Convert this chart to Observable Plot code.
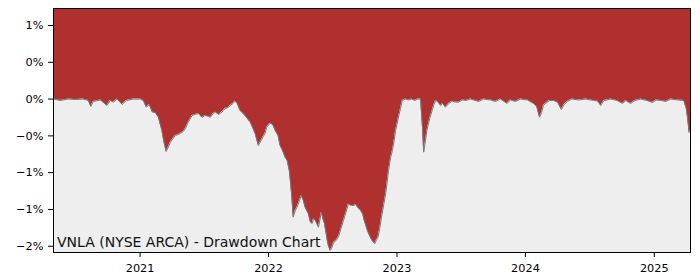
<!DOCTYPE html>
<html><head>
<meta charset="utf-8">
<script src="https://cdn.jsdelivr.net/npm/d3@7"></script>
<script src="https://cdn.jsdelivr.net/npm/@observablehq/plot@0.6"></script>
<style>
body{margin:0;background:#fff;}
svg{font-family:"DejaVu Sans",sans-serif;}
</style>
</head><body><div id="chart"></div>
<script>
const dates = [
"2020-04-30","2020-05-19","2020-06-11","2020-07-01","2020-07-23","2020-08-07","2020-08-14","2020-08-21","2020-09-10","2020-09-29",
"2020-10-08","2020-10-17","2020-10-28","2020-11-11","2020-11-23","2020-12-13","2021-01-02","2021-01-10","2021-01-19","2021-01-27",
"2021-02-05","2021-02-13","2021-02-22","2021-03-04","2021-03-09","2021-03-16","2021-03-22","2021-03-28","2021-04-05","2021-04-11",
"2021-04-20","2021-04-25","2021-05-04","2021-05-10","2021-05-18","2021-05-29","2021-06-07","2021-06-16","2021-06-26","2021-07-05",
"2021-07-14","2021-07-20","2021-07-28","2021-08-03","2021-08-12","2021-08-17","2021-08-26","2021-08-31","2021-09-09","2021-09-14",
"2021-09-22","2021-09-28","2021-10-04","2021-10-12","2021-10-21","2021-10-26","2021-11-04","2021-11-10","2021-11-18","2021-11-24",
"2021-12-03","2021-12-11","2021-12-17","2021-12-22","2021-12-27","2022-01-03","2022-01-08","2022-01-14","2022-01-20","2022-01-28",
"2022-02-03","2022-02-11","2022-02-17","2022-02-23","2022-03-01","2022-03-04","2022-03-08","2022-03-12","2022-03-18","2022-03-23",
"2022-03-30","2022-04-04","2022-04-10","2022-04-15","2022-04-24","2022-04-30","2022-05-05","2022-05-09","2022-05-14","2022-05-23",
"2022-05-31","2022-06-06","2022-06-09","2022-06-17","2022-06-20","2022-06-25","2022-06-29","2022-07-05","2022-07-12","2022-07-19",
"2022-07-26","2022-08-02","2022-08-09","2022-08-16","2022-08-24","2022-08-31","2022-09-06","2022-09-11","2022-09-20","2022-09-26",
"2022-09-30","2022-10-09","2022-10-16","2022-10-22","2022-10-30","2022-11-03","2022-11-08","2022-11-13","2022-11-18","2022-11-25",
"2022-11-30","2022-12-04","2022-12-08","2022-12-14","2022-12-19","2022-12-24","2022-12-28","2023-01-01","2023-01-05","2023-01-11",
"2023-01-16","2023-01-25","2023-02-03","2023-02-12","2023-02-20","2023-03-01","2023-03-09","2023-03-15","2023-03-18","2023-03-23",
"2023-03-27","2023-04-04","2023-04-11","2023-04-16","2023-04-21","2023-04-26","2023-05-05","2023-05-11","2023-05-19","2023-05-28",
"2023-06-07","2023-06-16","2023-06-25","2023-07-06","2023-07-17","2023-07-29","2023-08-21","2023-09-04","2023-09-24","2023-10-08",
"2023-10-22","2023-11-10","2023-11-19","2023-12-04","2023-12-18","2024-01-07","2024-01-24","2024-02-02","2024-02-10","2024-02-16",
"2024-02-21","2024-02-27","2024-03-09","2024-03-21","2024-04-02","2024-04-12","2024-04-20","2024-04-29","2024-05-12","2024-05-31",
"2024-06-20","2024-07-13","2024-07-24","2024-08-02","2024-08-11","2024-08-31","2024-09-17","2024-10-03","2024-10-12","2024-10-26",
"2024-11-07","2024-11-24","2024-12-11","2024-12-27","2025-01-06","2025-01-20","2025-02-03","2025-02-17","2025-03-09","2025-03-26",
"2025-04-02","2025-04-06","2025-04-10","2025-04-14"
];
const drawdown = [
0,-0.015,0,-0.005,0,-0.015,-0.080,-0.026,-0.010,-0.070,
-0.015,-0.034,0,-0.059,-0.015,0,0,-0.015,-0.088,-0.059,
-0.142,-0.146,-0.197,-0.341,-0.450,-0.570,-0.526,-0.469,-0.428,-0.396,
-0.385,-0.374,-0.352,-0.320,-0.251,-0.178,-0.167,-0.157,-0.200,-0.178,
-0.189,-0.197,-0.157,-0.142,-0.167,-0.157,-0.124,-0.102,-0.091,-0.070,
-0.048,-0.021,-0.048,-0.124,-0.157,-0.178,-0.222,-0.251,-0.320,-0.374,
-0.505,-0.450,-0.407,-0.374,-0.306,-0.271,-0.262,-0.287,-0.341,-0.396,
-0.505,-0.570,-0.632,-0.668,-0.777,-0.886,-1.048,-1.284,-1.212,-1.176,
-1.103,-1.048,-1.103,-1.176,-1.244,-1.338,-1.353,-1.298,-1.320,-1.393,
-1.230,-1.320,-1.353,-1.538,-1.592,-1.647,-1.625,-1.560,-1.538,-1.494,
-1.407,-1.320,-1.233,-1.141,-1.157,-1.157,-1.146,-1.176,-1.212,-1.255,
-1.320,-1.429,-1.494,-1.538,-1.571,-1.538,-1.502,-1.407,-1.284,-1.135,
-1.027,-0.907,-0.777,-0.635,-0.559,-0.450,-0.341,-0.276,-0.197,-0.102,
-0.015,0,-0.010,0,-0.015,0,0,-0.341,-0.577,-0.450,
-0.341,-0.211,-0.124,-0.059,-0.015,-0.026,-0.070,-0.048,-0.088,-0.048,
-0.023,-0.032,-0.034,-0.010,-0.015,0,-0.026,0,-0.010,-0.026,
0,-0.048,-0.010,-0.026,0,-0.010,-0.048,-0.080,-0.197,-0.146,
-0.070,-0.048,-0.015,-0.015,-0.037,-0.113,-0.059,-0.026,0,-0.010,
0,-0.015,-0.021,-0.070,-0.015,0,-0.015,-0.048,-0.015,-0.048,
-0.015,0,-0.015,-0.037,-0.010,-0.015,-0.026,0,-0.010,-0.015,
-0.102,-0.211,-0.363,-0.341
];
const yTickValues = [0.8, 0.4, 0, -0.4, -0.8, -1.2, -1.6];
const yTickLabels = ["1%", "0%", "0%", "\u22120%", "\u22121%", "\u22121%", "\u22122%"];
const xTickDates = ["2021-01-01", "2022-01-01", "2023-01-01", "2024-01-01", "2025-01-01"];
const xTickLabels = ["2021", "2022", "2023", "2024", "2025"];
const xDomain = ["2020-04-30", "2025-04-14"];
const yDomain = [-1.668, 0.985];
const title = "VNLA (NYSE ARCA) - Drawdown Chart";

const data = dates.map((d, i) => ({date: new Date(d), dd: drawdown[i]}));
const xTicks = xTickDates.map(d => new Date(d));
const yLabelMap = new Map(yTickValues.map((v, i) => [v, yTickLabels[i]]));
const xLabelFor = d => xTickLabels[xTicks.findIndex(t => +t === +d)];

const chart = Plot.plot({
  width: 700, height: 280,
  marginLeft: 53, marginRight: 10, marginTop: 8, marginBottom: 28,
  style: {fontFamily: "DejaVu Sans", fontSize: "11.3px", color: "black", background: "white"},
  x: {type: "utc", domain: xDomain.map(d => new Date(d))},
  y: {domain: yDomain},
  marks: [
    Plot.frame({fill: "#eeeeee"}),
    Plot.areaY(data, {x: "date", y1: "dd", y2: yDomain[1], fill: "#b03030"}),
    Plot.line(data, {x: "date", y: "dd", stroke: "#777", strokeWidth: 1}),
    Plot.frame({stroke: "black", strokeWidth: 1}),
    Plot.axisX({ticks: xTicks, tickFormat: xLabelFor, tickSize: 5, tickPadding: 6, label: null, fontSize: 11.3, fill: "black"}),
    Plot.axisY({ticks: yTickValues, tickFormat: d => yLabelMap.get(d), tickSize: 5, tickPadding: 5, label: null, fontSize: 11.3, fill: "black"}),
    Plot.text([title], {frameAnchor: "bottom-left", text: d => d, textAnchor: "start", lineAnchor: "bottom", dx: 3.5, dy: -6, fontSize: 14, fill: "#111"})
  ]
});
document.getElementById("chart").appendChild(chart);

// grey background box behind the title label
d3.select(chart).selectAll("text").filter(function(){ return this.textContent === title; }).each(function(){
  const bb = this.getBBox();
  const rect = document.createElementNS("http://www.w3.org/2000/svg", "rect");
  rect.setAttribute("x", bb.x - 3.4);
  rect.setAttribute("y", bb.y - 0.3);
  rect.setAttribute("width", bb.width + 6.8);
  rect.setAttribute("height", bb.height + 0.6);
  rect.setAttribute("fill", "#b3b3b3");
  this.parentNode.insertBefore(rect, this);
});
</script>
</body></html>
